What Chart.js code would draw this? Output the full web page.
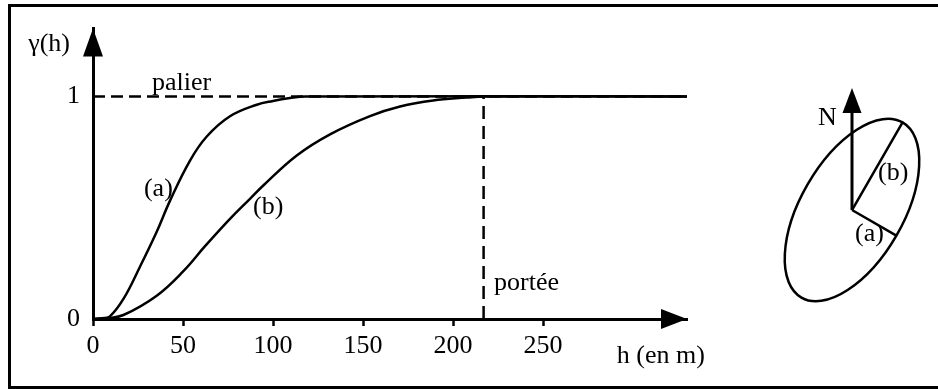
<!DOCTYPE html>
<html>
<head>
<meta charset="utf-8">
<script src="https://cdn.jsdelivr.net/npm/chart.js@4/dist/chart.umd.min.js"></script>
<style>
  html, body { margin: 0; padding: 0; background: #fff; }
  canvas { display: block; }
</style>
</head>
<body>
<canvas id="c" width="938" height="389"></canvas>
<script>
// Distance h (m) and semivariance readings for the two directions
const hA     = [0, 5, 9.4, 16.9, 26.1, 35.4, 42.8, 53.9, 63.2, 76.1, 91, 100, 109.4, 118, 330];
const gammaA = [0, 0.003, 0.012, 0.09, 0.235, 0.392, 0.532, 0.712, 0.82, 0.911, 0.963, 0.98, 0.993, 1, 1];

const hB     = [0, 8, 16.9, 35.4, 50.2, 62, 76.1, 87.2, 94.6, 113.2, 131.7, 153.9, 170.6, 189, 207.6, 217, 330];
const gammaB = [0, 0.004, 0.018, 0.105, 0.215, 0.325, 0.45, 0.54, 0.6, 0.735, 0.83, 0.912, 0.955, 0.982, 0.995, 1, 1];

const sill = 1;          // palier
const range = 217;       // portée of direction (b)
const rangeA = 110;      // range of direction (a)
const hMax = 330;
const gammaMax = 1.305;

const xTicks = [0, 50, 100, 150, 200, 250];
const yTicks = [0, 1];

const FONT = '"Liberation Serif", "Times New Roman", serif';

// free text placed in data coordinates
const notes = [
  { text: 'γ(h)',     h: -12.8, g: 1.204, align: 'right' },
  { text: 'palier',   h: 32.8,  g: 1.029, align: 'left' },
  { text: '(a)',      h: 28.3,  g: 0.554, align: 'left' },
  { text: '(b)',      h: 88.9,  g: 0.47,  align: 'left' },
  { text: 'portée',   h: 222.8, g: 0.132, align: 'left' },
  { text: 'h (en m)', h: 291,   g: -0.198, align: 'left' }
];

const toPts = (xs, ys) => xs.map((x, i) => ({ x: x, y: ys[i] }));

// axes arrows, labels, anisotropy ellipse and frame
const decor = {
  id: 'decor',
  afterDraw(chart) {
    const { ctx, scales: { x, y } } = chart;
    const x0 = x.getPixelForValue(0), y0 = y.getPixelForValue(0);
    ctx.save();
    ctx.fillStyle = '#000';
    ctx.strokeStyle = '#000';

    // arrow heads on axes
    const yTip = y.getPixelForValue(gammaMax);
    ctx.beginPath();
    ctx.moveTo(x0, yTip);
    ctx.lineTo(x0 - 10, yTip + 28);
    ctx.lineTo(x0 + 10, yTip + 28);
    ctx.closePath();
    ctx.fill();
    const xTip = x.getPixelForValue(hMax);
    ctx.beginPath();
    ctx.moveTo(xTip, y0);
    ctx.lineTo(xTip - 26, y0 - 10);
    ctx.lineTo(xTip - 26, y0 + 10);
    ctx.closePath();
    ctx.fill();

    // text notes
    ctx.font = '26px ' + FONT;
    ctx.textBaseline = 'alphabetic';
    notes.forEach(n => {
      ctx.textAlign = n.align;
      ctx.fillText(n.text, x.getPixelForValue(n.h), y.getPixelForValue(n.g));
    });

    // anisotropy ellipse: axes proportional to the two ranges
    const cx = 852, cy = 210, k = 0.466;
    const rotN = 30 * Math.PI / 180;            // major axis, clockwise from north
    const ang = rotN - Math.PI / 2;               // canvas angle of the major axis
    const rb = range * k, ra = rangeA * k;
    ctx.lineWidth = 2.5;
    ctx.beginPath();
    ctx.ellipse(cx, cy, rb, ra, ang, 0, Math.PI * 2);
    ctx.stroke();
    ctx.beginPath();
    ctx.moveTo(cx, cy);
    ctx.lineTo(cx + rb * Math.cos(ang), cy + rb * Math.sin(ang));
    ctx.moveTo(cx, cy);
    ctx.lineTo(cx + ra * Math.cos(ang + Math.PI / 2), cy + ra * Math.sin(ang + Math.PI / 2));
    ctx.stroke();
    // north arrow
    const nTip = cy - 122;
    ctx.lineWidth = 3;
    ctx.beginPath();
    ctx.moveTo(cx, cy);
    ctx.lineTo(cx, nTip + 20);
    ctx.stroke();
    ctx.beginPath();
    ctx.moveTo(cx, nTip);
    ctx.lineTo(cx - 9.5, nTip + 25);
    ctx.lineTo(cx + 9.5, nTip + 25);
    ctx.closePath();
    ctx.fill();
    ctx.textAlign = 'left';
    ctx.fillText('N', cx - 34, cy - 85);
    ctx.fillText('(b)', cx + 26, cy - 30);
    ctx.fillText('(a)', cx + 3, cy + 31);

    // frame
    ctx.lineWidth = 3;
    ctx.strokeRect(9.5, 5.5, 940, 382);
    ctx.restore();
  }
};

new Chart(document.getElementById('c'), {
  type: 'scatter',
  data: {
    datasets: [
      { data: toPts(hA, gammaA), showLine: true, borderColor: '#000', borderWidth: 2.5,
        pointRadius: 0, tension: 0.4 },
      { data: toPts(hB, gammaB), showLine: true, borderColor: '#000', borderWidth: 2.5,
        pointRadius: 0, tension: 0.4 },
      { data: [{ x: 0, y: sill }, { x: hMax, y: sill }], showLine: true, borderColor: '#000',
        borderWidth: 2.5, borderDash: [12, 6], pointRadius: 0 },
      { data: [{ x: range, y: 0 }, { x: range, y: sill }], showLine: true, borderColor: '#000',
        borderWidth: 2.5, borderDash: [13, 7], pointRadius: 0 }
    ]
  },
  options: {
    responsive: false,
    animation: false,
    events: [],
    plugins: { legend: { display: false }, tooltip: { enabled: false } },
    layout: { padding: { left: 0, top: 22, right: 251, bottom: 0 } },
    scales: {
      x: {
        type: 'linear', min: 0, max: hMax,
        afterBuildTicks: s => { s.ticks = xTicks.map(v => ({ value: v })); },
        afterFit: s => { s.height = 70; },
        grid: { display: true, drawOnChartArea: false, drawTicks: true, tickLength: 7,
                tickWidth: 2.5, tickColor: '#000', color: '#000' },
        border: { display: true, color: '#000', width: 3 },
        ticks: { color: '#000', padding: 5, maxRotation: 0, autoSkip: false,
                 font: { family: FONT, size: 26 } }
      },
      y: {
        type: 'linear', min: 0, max: gammaMax,
        afterBuildTicks: s => { s.ticks = yTicks.map(v => ({ value: v })); },
        afterFit: s => { s.width = 93; },
        grid: { display: false, drawTicks: false },
        border: { display: true, color: '#000', width: 3 },
        ticks: { color: '#000', padding: 13, font: { family: FONT, size: 26 } }
      }
    }
  },
  plugins: [decor]
});
</script>
</body>
</html>
